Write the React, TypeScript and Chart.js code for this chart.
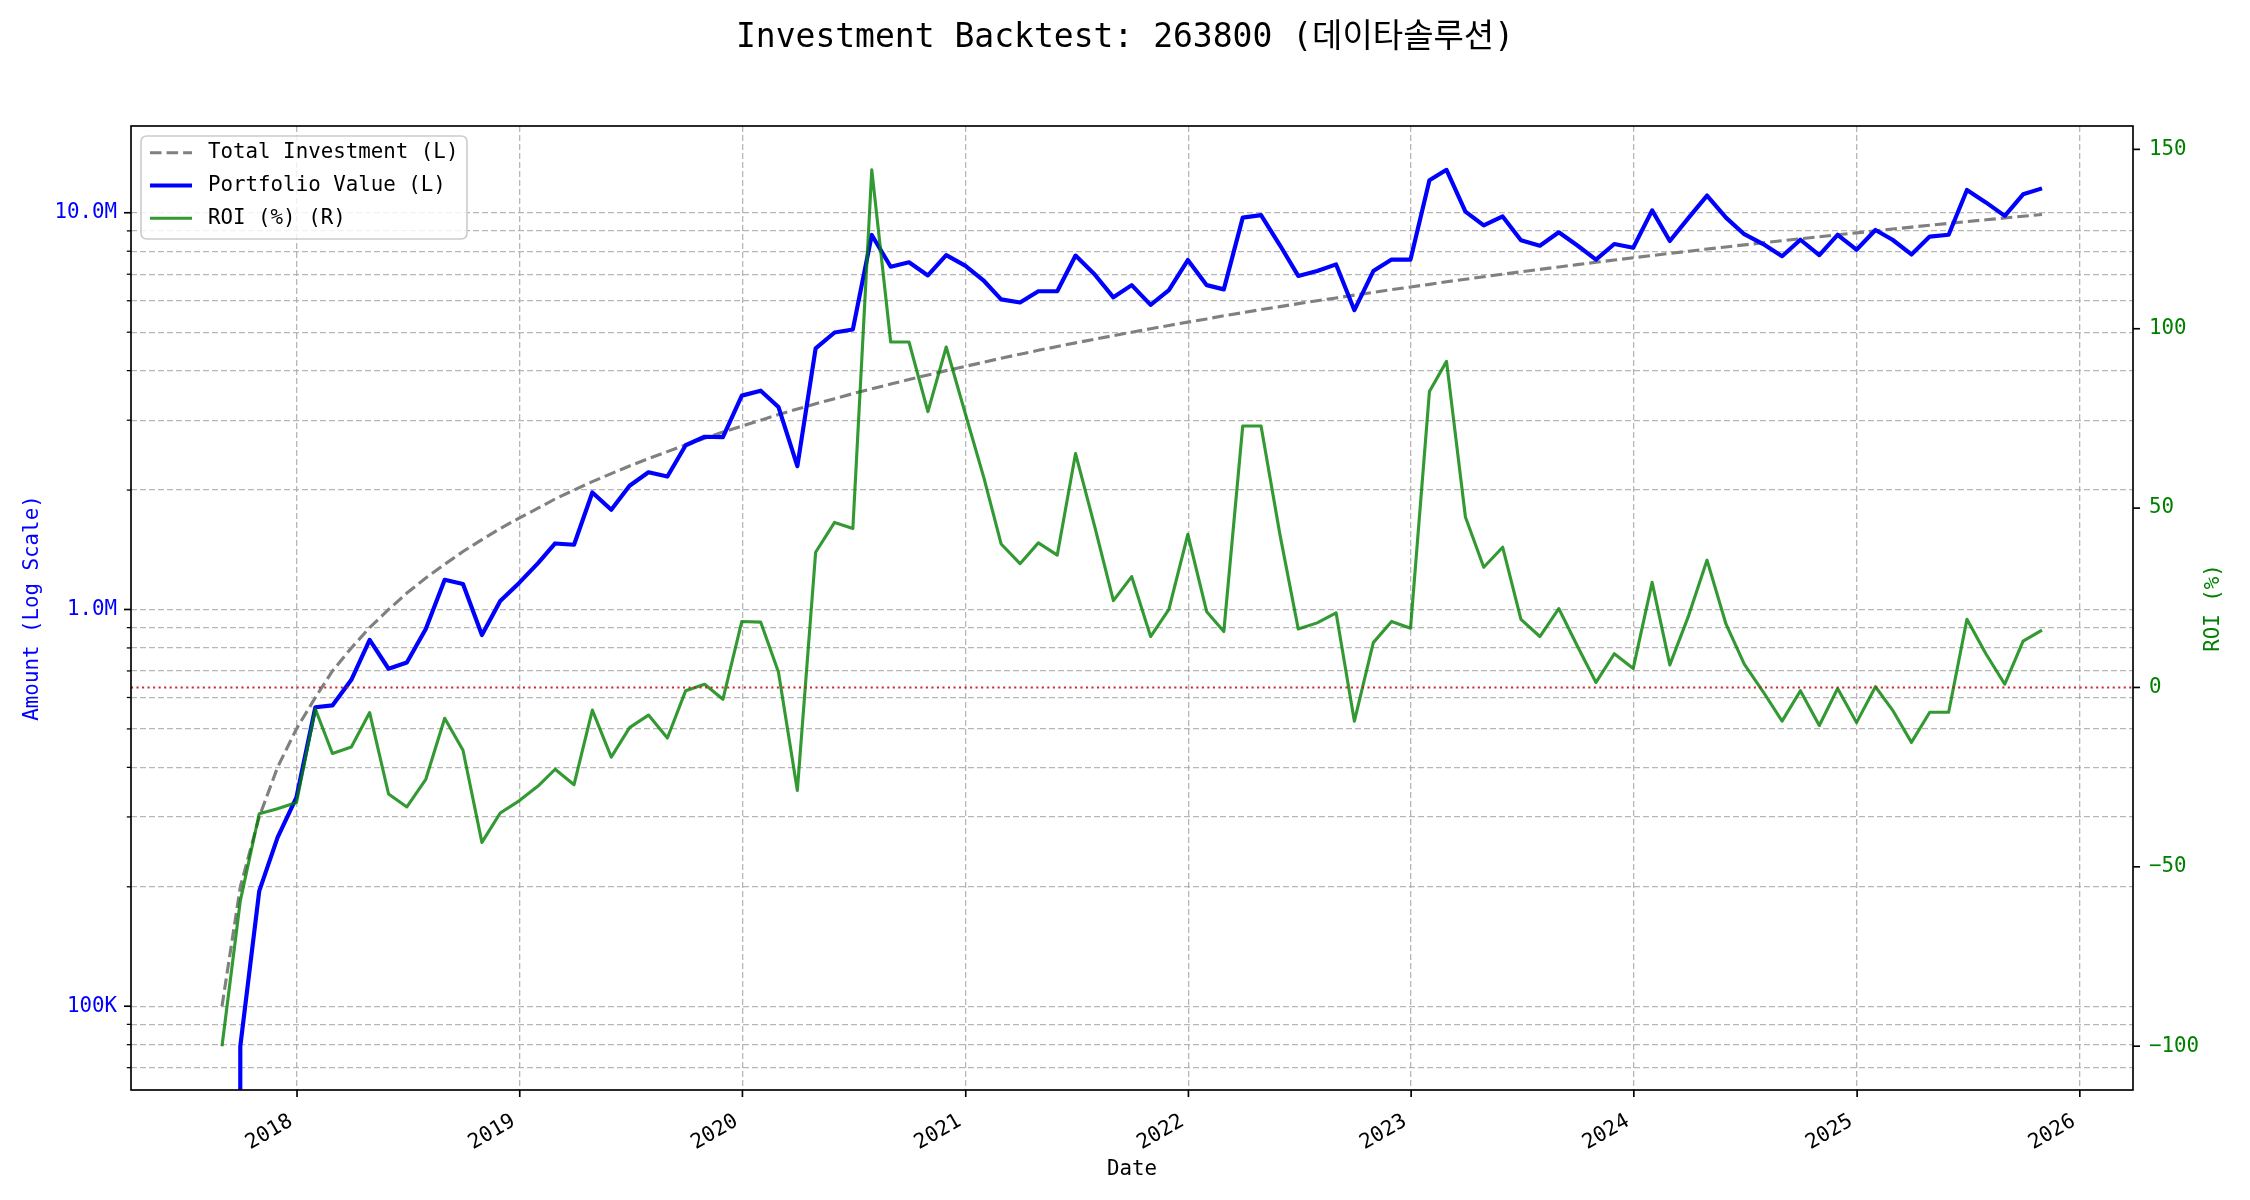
import React, { useEffect, useRef } from "react";
import { Chart, registerables } from "chart.js";

Chart.register(...registerables);

// ---------------- data ----------------
const months = [
  "2017-08", "2017-09", "2017-10", "2017-11", "2017-12",
  "2018-01", "2018-02", "2018-03", "2018-04", "2018-05", "2018-06", "2018-07", "2018-08", "2018-09", "2018-10", "2018-11", "2018-12",
  "2019-01", "2019-02", "2019-03", "2019-04", "2019-05", "2019-06", "2019-07", "2019-08", "2019-09", "2019-10", "2019-11", "2019-12",
  "2020-01", "2020-02", "2020-03", "2020-04", "2020-05", "2020-06", "2020-07", "2020-08", "2020-09", "2020-10", "2020-11", "2020-12",
  "2021-01", "2021-02", "2021-03", "2021-04", "2021-05", "2021-06", "2021-07", "2021-08", "2021-09", "2021-10", "2021-11", "2021-12",
  "2022-01", "2022-02", "2022-03", "2022-04", "2022-05", "2022-06", "2022-07", "2022-08", "2022-09", "2022-10", "2022-11", "2022-12",
  "2023-01", "2023-02", "2023-03", "2023-04", "2023-05", "2023-06", "2023-07", "2023-08", "2023-09", "2023-10", "2023-11", "2023-12",
  "2024-01", "2024-02", "2024-03", "2024-04", "2024-05", "2024-06", "2024-07", "2024-08", "2024-09", "2024-10", "2024-11", "2024-12",
  "2025-01", "2025-02", "2025-03", "2025-04", "2025-05", "2025-06", "2025-07", "2025-08", "2025-09", "2025-10",
];

const totalInvestment = [
  100000, 200000, 300000, 400000, 500000, 600000, 700000, 800000, 900000, 1000000,
  1100000, 1200000, 1300000, 1400000, 1500000, 1600000, 1700000, 1800000, 1900000, 2000000,
  2100000, 2200000, 2300000, 2400000, 2500000, 2600000, 2700000, 2800000, 2900000, 3000000,
  3100000, 3200000, 3300000, 3400000, 3500000, 3600000, 3700000, 3800000, 3900000, 4000000,
  4100000, 4200000, 4300000, 4400000, 4500000, 4600000, 4700000, 4800000, 4900000, 5000000,
  5100000, 5200000, 5300000, 5400000, 5500000, 5600000, 5700000, 5800000, 5900000, 6000000,
  6100000, 6200000, 6300000, 6400000, 6500000, 6600000, 6700000, 6800000, 6900000, 7000000,
  7100000, 7200000, 7300000, 7400000, 7500000, 7600000, 7700000, 7800000, 7900000, 8000000,
  8100000, 8200000, 8300000, 8400000, 8500000, 8600000, 8700000, 8800000, 8900000, 9000000,
  9100000, 9200000, 9300000, 9400000, 9500000, 9600000, 9700000, 9800000, 9900000,
];

const portfolioValue = [
  0, 79300, 195000, 266000, 336000, 567000, 573000, 665000, 838000, 709000, 735000, 893000,
  1188000, 1159000, 862000, 1050000, 1167000, 1309000, 1467000, 1456000, 1972000, 1784000, 2050000, 2218000,
  2163000, 2594000, 2725000, 2720000, 3460000, 3560000, 3240000, 2297000, 4550000, 4990000, 5080000, 8790000,
  7310000, 7500000, 6950000, 7820000, 7360000, 6730000, 6050000, 5940000, 6340000, 6340000, 7800000, 7000000,
  6120000, 6570000, 5860000, 6380000, 7600000, 6570000, 6410000, 9720000, 9860000, 8280000, 6930000, 7130000,
  7410000, 5680000, 7130000, 7620000, 7620000, 12070000, 12830000, 10070000, 9290000, 9790000, 8520000, 8260000,
  8930000, 8280000, 7620000, 8340000, 8160000, 10140000, 8490000, 9720000, 11050000, 9720000, 8830000, 8340000,
  7770000, 8550000, 7820000, 8800000, 8070000, 9050000, 8550000, 7850000, 8710000, 8800000, 11410000, 10620000,
  9820000, 11130000, 11520000,
];

const roiPercent = [
  -100, -59.5, -35.2, -33.8, -32.1, -6.0, -18.4, -16.6, -7.0, -29.7, -33.3, -25.6,
  -8.6, -17.5, -43.2, -35.0, -31.6, -27.5, -22.8, -27.1, -6.3, -19.4, -11.2, -7.7,
  -14.1, -0.9, 0.9, -3.3, 18.4, 18.2, 4.3, -28.7, 37.7, 46.0, 44.3, 144.3,
  96.3, 96.3, 76.9, 94.9, 76.5, 58.3, 40.0, 34.5, 40.3, 36.9, 65.2, 45.1,
  24.2, 30.9, 14.2, 21.8, 42.7, 21.1, 15.6, 72.9, 72.9, 42.6, 16.3, 18.0,
  20.8, -9.4, 12.5, 18.4, 16.5, 82.5, 90.9, 47.5, 33.5, 39.1, 19.0, 14.2,
  22.0, 11.7, 1.4, 9.4, 5.3, 29.3, 6.3, 20.1, 35.5, 17.7, 6.5, -1.2,
  -9.4, -0.9, -10.6, -0.3, -9.8, 0.2, -6.3, -15.3, -6.9, -6.9, 19.0, 9.4,
  0.9, 12.9, 16.0,
];

const xTickYears = [2018, 2019, 2020, 2021, 2022, 2023, 2024, 2025, 2026];
const leftMajorTicks = [100000, 1000000, 10000000];
const leftMajorLabels = ["100K", "1.0M", "10.0M"];
const rightTicks = [-100, -50, 0, 50, 100, 150];

const TITLE = "Investment Backtest: 263800 (데이타솔루션)";
const LEGEND_LABELS = ["Total Investment (L)", "Portfolio Value (L)", "ROI (%) (R)"];
const X_TITLE = "Date";
const Y_TITLE = "Amount (Log Scale)";
const Y2_TITLE = "ROI (%)";

// ---------------- style ----------------
const FAMILY = "'DejaVu Sans Mono', 'Noto Sans CJK KR', monospace";
const FS = 20.8;
const W = 2250;
const H = 1200;
const PLOT = { left: 131, right: 2133, top: 126, bottom: 1090 };
const GRID_COLOR = "rgba(165,165,165,0.8)";
const GRID_DASH = [6, 3];
const C_INV = "#808080";
const C_PORT = "#0000ff";
const C_ROI = "rgba(0,128,0,0.8)";
const C_GREEN = "#008000";

function monthEnd(s: string): number {
  const [y, m] = s.split("-").map(Number);
  return Date.UTC(y, m, 0);
}

export default function App() {
  const ref = useRef<HTMLCanvasElement | null>(null);

  useEffect(() => {
    const canvas = ref.current;
    if (!canvas) return;
    const xs = months.map(monthEnd);
    const span = xs[xs.length - 1] - xs[0];
    const xMin = xs[0] - 0.05 * span;
    const xMax = xs[xs.length - 1] + 0.05 * span;

    const positives = [...portfolioValue, ...totalInvestment].filter((v) => v > 0);
    const lmin = Math.log10(Math.min(...positives));
    const lmax = Math.log10(Math.max(...positives));
    const lpad = 0.05 * (lmax - lmin);
    const yMin = Math.pow(10, lmin - lpad);
    const yMax = Math.pow(10, lmax + lpad);

    const rmin = Math.min(...roiPercent);
    const rmax = Math.max(...roiPercent);
    const rpad = 0.05 * (rmax - rmin);

    const font = { family: FAMILY, size: FS };

    const decorations = {
      id: "decorations",
      beforeDraw(chart: any) {
        const ctx = chart.ctx;
        ctx.save();
        ctx.fillStyle = "#ffffff";
        ctx.fillRect(0, 0, chart.width, chart.height);
        ctx.restore();
      },
      afterDatasetsDraw(chart: any) {
        const ctx = chart.ctx;
        const a = chart.chartArea;
        const y1 = chart.scales.y1;
        const yl = chart.scales.y;
        const xsc = chart.scales.x;
        ctx.save();
        // zero ROI reference line
        const zy = y1.getPixelForValue(0);
        ctx.strokeStyle = "rgba(200,20,20,0.9)";
        ctx.lineWidth = 2.08;
        ctx.setLineDash([2.08, 3.44]);
        ctx.beginPath();
        ctx.moveTo(a.left, zy);
        ctx.lineTo(a.right, zy);
        ctx.stroke();
        ctx.setLineDash([]);

        // frame
        ctx.strokeStyle = "#000";
        ctx.lineWidth = 1.67;
        ctx.strokeRect(a.left, a.top, a.right - a.left, a.bottom - a.top);

        // tick marks
        ctx.lineWidth = 1.67;
        for (const t of xsc.ticks) {
          const px = xsc.getPixelForValue(t.value);
          ctx.beginPath();
          ctx.moveTo(px, a.bottom);
          ctx.lineTo(px, a.bottom + 7);
          ctx.stroke();
        }
        for (const t of yl.ticks) {
          const py = yl.getPixelForValue(t.value);
          const major = leftMajorTicks.some((m) => Math.abs(m - t.value) < m * 1e-6);
          ctx.lineWidth = major ? 1.67 : 1.25;
          ctx.beginPath();
          ctx.moveTo(a.left - (major ? 7 : 4.2), py);
          ctx.lineTo(a.left, py);
          ctx.stroke();
        }
        ctx.lineWidth = 1.67;
        for (const t of y1.ticks) {
          const py = y1.getPixelForValue(t.value);
          ctx.beginPath();
          ctx.moveTo(a.right, py);
          ctx.lineTo(a.right + 7, py);
          ctx.stroke();
        }

        // legend
        const lx = 141, ly = 136, lw = 326, lh = 103, r = 6;
        ctx.beginPath();
        ctx.moveTo(lx + r, ly);
        ctx.lineTo(lx + lw - r, ly);
        ctx.quadraticCurveTo(lx + lw, ly, lx + lw, ly + r);
        ctx.lineTo(lx + lw, ly + lh - r);
        ctx.quadraticCurveTo(lx + lw, ly + lh, lx + lw - r, ly + lh);
        ctx.lineTo(lx + r, ly + lh);
        ctx.quadraticCurveTo(lx, ly + lh, lx, ly + lh - r);
        ctx.lineTo(lx, ly + r);
        ctx.quadraticCurveTo(lx, ly, lx + r, ly);
        ctx.closePath();
        ctx.fillStyle = "rgba(255,255,255,0.8)";
        ctx.fill();
        ctx.strokeStyle = "#cccccc";
        ctx.lineWidth = 1.6;
        ctx.stroke();

        const rows = [152.7, 185.5, 218.3];
        const styles = [
          { color: C_INV, width: 3.125, dash: [11.56, 5] },
          { color: C_PORT, width: 4.17, dash: [] },
          { color: C_ROI, width: 3.125, dash: [] },
        ];
        ctx.font = `${FS}px ${FAMILY}`;
        ctx.textAlign = "left";
        ctx.textBaseline = "middle";
        rows.forEach((ry, i) => {
          ctx.strokeStyle = styles[i].color;
          ctx.lineWidth = styles[i].width;
          ctx.setLineDash(styles[i].dash);
          ctx.beginPath();
          ctx.moveTo(150, ry);
          ctx.lineTo(192, ry);
          ctx.stroke();
          ctx.setLineDash([]);
          ctx.fillStyle = "#000";
          ctx.fillText(LEGEND_LABELS[i], 208, ry);
        });
        ctx.restore();
      },
      afterDraw(chart: any) {
        const ctx = chart.ctx;
        ctx.save();
        ctx.fillStyle = "#000";
        ctx.font = `33px ${FAMILY}`;
        ctx.textAlign = "center";
        ctx.textBaseline = "middle";
        ctx.fillText(TITLE, W / 2, 38);

        ctx.translate(2214, (PLOT.top + PLOT.bottom) / 2);
        ctx.rotate(-Math.PI / 2);
        ctx.font = `${FS}px ${FAMILY}`;
        ctx.fillStyle = C_GREEN;
        ctx.fillText(Y2_TITLE, 0, 0);
        ctx.restore();
      },
    };

    const chart = new Chart(canvas, {
      type: "line",
      data: {
        datasets: [
          {
            label: LEGEND_LABELS[2],
            data: roiPercent.map((v, i) => ({ x: xs[i], y: v })),
            yAxisID: "y1",
            xAxisID: "x",
            borderColor: C_ROI,
            borderWidth: 3.125,
            pointRadius: 0,
            tension: 0,
            borderJoinStyle: "round",
            order: 1,
          },
          {
            label: LEGEND_LABELS[1],
            // a log axis cannot show 0: like matplotlib's clipping, map it far below the axis
            data: portfolioValue.map((v, i) => ({ x: xs[i], y: v > 0 ? v : 1e-300 })),
            yAxisID: "y",
            xAxisID: "x",
            borderColor: C_PORT,
            borderWidth: 4.17,
            pointRadius: 0,
            tension: 0,
            borderJoinStyle: "round",
            order: 2,
          },
          {
            label: LEGEND_LABELS[0],
            data: totalInvestment.map((v, i) => ({ x: xs[i], y: v })),
            yAxisID: "y",
            xAxisID: "x",
            borderColor: C_INV,
            borderWidth: 3.125,
            borderDash: [11.56, 5],
            pointRadius: 0,
            tension: 0,
            order: 3,
          },
        ],
      },
      options: {
        responsive: false,
        animation: false,
        devicePixelRatio: 1,
        events: [],
        layout: { padding: { left: 0, right: 0, top: PLOT.top, bottom: 0 } },
        plugins: {
          legend: { display: false },
          title: { display: false },
          tooltip: { enabled: false },
        },
        scales: {
          x: {
            type: "linear",
            position: "bottom",
            min: xMin,
            max: xMax,
            bounds: "data",
            afterBuildTicks: (s: any) => {
              s.ticks = xTickYears.map((y) => ({ value: Date.UTC(y, 0, 1) }));
            },
            afterFit: (s: any) => {
              s.height = H - PLOT.bottom;
            },
            ticks: {
              autoSkip: false,
              minRotation: 30,
              maxRotation: 30,
              padding: 19,
              labelOffset: -6,
              color: "#000",
              font,
              callback: (v: any) => String(new Date(Number(v)).getUTCFullYear()),
            },
            grid: { drawTicks: false, color: GRID_COLOR, lineWidth: 1.3 },
            border: { display: false, dash: GRID_DASH },
            title: {
              display: true,
              text: X_TITLE,
              color: "#000",
              font,
              padding: { top: 0, bottom: 18 },
            },
          },
          y: {
            type: "logarithmic",
            position: "left",
            min: yMin,
            max: yMax,
            bounds: "data",
            afterBuildTicks: (s: any) => {
              const t: any[] = [];
              for (let k = 4; k <= 7; k++) {
                for (let m = 1; m <= 9; m++) {
                  const v = m * Math.pow(10, k);
                  if (v >= yMin && v <= yMax) t.push({ value: v });
                }
              }
              s.ticks = t;
            },
            afterFit: (s: any) => {
              s.width = PLOT.left;
            },
            ticks: {
              autoSkip: false,
              padding: 14,
              color: C_PORT,
              font,
              callback: (v: any) => {
                const idx = leftMajorTicks.findIndex((m) => Math.abs(m - Number(v)) < m * 1e-6);
                return idx >= 0 ? leftMajorLabels[idx] : "";
              },
            },
            grid: { drawTicks: false, color: GRID_COLOR, lineWidth: 1.3 },
            border: { display: false, dash: GRID_DASH },
            title: {
              display: true,
              text: Y_TITLE,
              color: C_PORT,
              font,
              padding: { top: 20, bottom: 0 },
            },
          },
          y1: {
            type: "linear",
            position: "right",
            min: rmin - rpad,
            max: rmax + rpad,
            bounds: "data",
            afterBuildTicks: (s: any) => {
              s.ticks = rightTicks.map((v) => ({ value: v }));
            },
            afterFit: (s: any) => {
              s.width = W - PLOT.right;
            },
            ticks: {
              autoSkip: false,
              padding: 16,
              color: C_GREEN,
              font,
              callback: (v: any) => String(v).replace("-", "\u2212"),
            },
            grid: { display: false, drawTicks: false },
            border: { display: false },
          },
        },
      },
      plugins: [decorations],
    } as any);

    return () => chart.destroy();
  }, []);

  return (
    <canvas
      ref={ref}
      width={W}
      height={H}
      style={{ position: "absolute", left: 0, top: 0, width: W, height: H }}
    />
  );
}
